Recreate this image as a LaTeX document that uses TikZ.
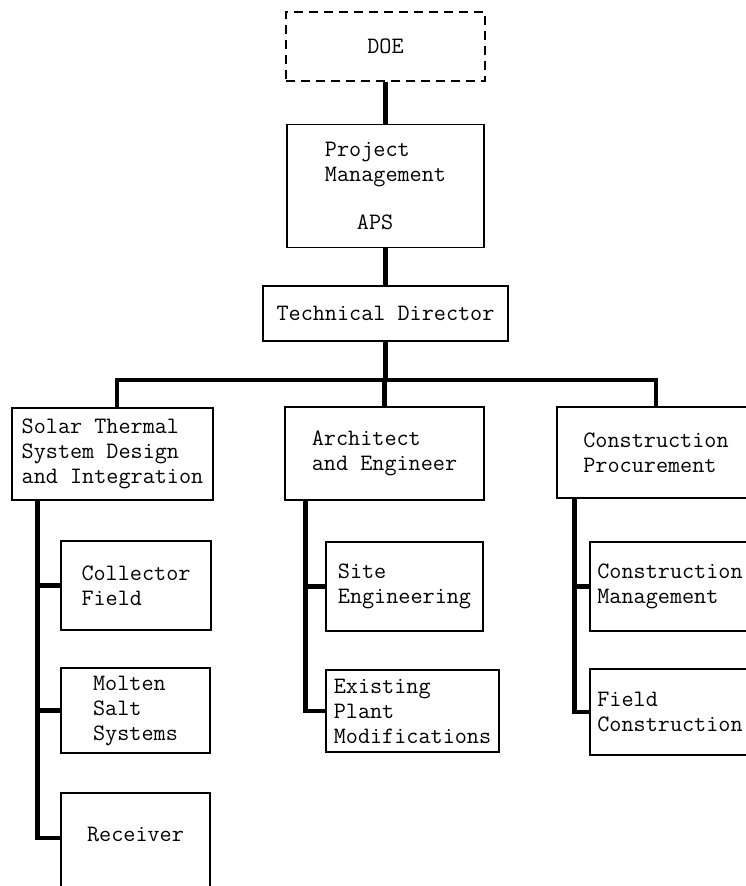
\documentclass[tikz,border=0pt]{standalone}
\usetikzlibrary{positioning}

\begin{document}
\begin{tikzpicture}[x=1pt,y=-1pt]
	\tikzstyle{block} = [draw, rectangle, line width=1.5pt, align=left, inner sep=3pt, font=\ttfamily\fontsize{23.5}{25}\selectfont]
	\tikzstyle{link} = [line width=4.5pt]

	\useasboundingbox (0,0) rectangle (746,886);
	\clip (0,0) rectangle (746,886);

	\node [block, dash pattern=on 9pt off 6pt, minimum width=199pt, minimum height=69pt] (doe) at (385.5,46.5) {DOE};
	\node [block, below = 42pt of doe, minimum width=197pt, minimum height=123pt] (pm) {Project\\Management\\[23pt]\hspace*{32pt}APS};
	\node [block, below = 37pt of pm, minimum width=245pt, minimum height=55pt] (td) {Technical Director};
	\node [coordinate, below = 38pt of td] (bus) {};

	\node [block, minimum width=201pt, minimum height=92pt] (sts) at (112.5,454) {Solar Thermal\\System Design\\and Integration};
	\node [block, minimum width=199pt, minimum height=93pt] (ae) at (384.5,453.5) {Architect\\and Engineer};
	\node [block, minimum width=198pt, minimum height=91pt] (cp) at (656,452.5) {Construction\\Procurement};

	\node [block, minimum width=150pt, minimum height=89pt] (cf) at (136,585.5) {Collector\\Field};
	\node [block, minimum width=149pt, minimum height=85pt] (ms) at (135.5,710.5) {Molten\\Salt\\Systems};
	\node [block, minimum width=149pt, minimum height=107pt] (rcv) at (135.5,846.5) {Receiver\\~};

	\node [block, minimum width=157pt, minimum height=89pt] (site) at (404.5,586.5) {Site\\Engineering};
	\node [block, minimum width=173pt, minimum height=82pt] (epm) at (412.5,711) {Existing\\Plant\\Modifications};

	\node [block, minimum width=160pt, minimum height=89pt] (cmg) at (670,586.5) {Construction\\Management};
	\node [block, minimum width=160pt, minimum height=86pt] (fcn) at (670,712) {Field\\Construction};

	\draw [link] (doe) -- (pm);
	\draw [link] (pm) -- (td);
	\draw [link] (td) -- (bus);
	\draw [link] (bus) -| ([xshift=4.5pt]sts.north);
	\draw [link] (bus) -| (ae);
	\draw [link] (bus) -| (cp);

	\draw [link] ([xshift=26pt]sts.south west) |- (cf);
	\draw [link] ([xshift=26pt]sts.south west) |- (ms);
	\draw [link] ([xshift=26pt]sts.south west) |- ([yshift=8.5pt]rcv.west);
	\draw [link] ([xshift=21pt]ae.south west) |- (site);
	\draw [link] ([xshift=21pt]ae.south west) |- (epm);
	\draw [link] ([xshift=18pt]cp.south west) |- (cmg);
	\draw [link] ([xshift=18pt]cp.south west) |- (fcn);

\end{tikzpicture}
\end{document}
